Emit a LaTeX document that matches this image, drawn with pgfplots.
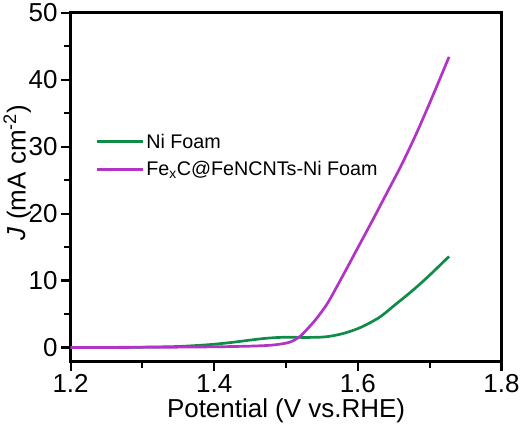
\documentclass[border=0pt]{standalone}
\usepackage{fontspec}
\setmainfont{Liberation Sans}
\usepackage{pgfplots}
\pgfplotsset{compat=1.18}
\definecolor{nigreen}{RGB}{16,140,72}
\definecolor{fepurple}{RGB}{178,52,198}
\begin{document}
\begin{tikzpicture}
\begin{axis}[
  scale only axis, width=415pt, height=336pt,
  xmin=1.2, xmax=1.8, ymin=-2.1, ymax=50,
  xtick={1.2,1.4,1.6,1.8}, ytick={0,10,20,30,40,50},
  minor x tick num=1, minor y tick num=1,
  xtick pos=bottom, ytick pos=left, tick align=outside,
  major tick length=9pt, minor tick length=6pt,
  axis line style={line width=2.6pt}, every tick/.style={line width=2pt, black},
  /pgf/number format/assume math mode=true,
  xticklabel style={/pgf/number format/fixed, /pgf/number format/precision=1, /pgf/number format/fixed zerofill},
  tick label style={font=\fontsize{25}{28}\selectfont},
  label style={font=\fontsize{25}{28}\selectfont},
  xlabel={Potential (V vs.RHE)},
  ylabel={\textit{J} (mA cm\textsuperscript{-2})},
  xlabel style={yshift=1pt},
  ylabel style={yshift=-9pt, xshift=14pt},
  legend style={at={(rel axis cs:0.05,0.665)}, anchor=north west, draw=none, fill=none,
    font=\fontsize{19}{22}\selectfont, row sep=7pt},
  legend cell align=left,
  legend image code/.code={\draw[#1, line width=3pt] (0pt,0pt) -- (44pt,0pt);},
]
\addplot[nigreen, line width=2.6pt, smooth] coordinates {
(1.20,0.00) (1.25,0.01) (1.30,0.05) (1.35,0.15) (1.39,0.40) (1.42,0.70) (1.45,1.10)
(1.47,1.35) (1.49,1.50) (1.51,1.52) (1.53,1.50) (1.556,1.60) (1.58,2.10) (1.604,3.00)
(1.63,4.50) (1.651,6.30) (1.675,8.40) (1.698,10.60) (1.727,13.60)};
\addlegendentry{Ni Foam}
\addplot[fepurple, line width=2.6pt, smooth] coordinates {
(1.20,0.00) (1.25,0.00) (1.30,0.02) (1.35,0.05) (1.40,0.10) (1.45,0.20) (1.48,0.35)
(1.50,0.65) (1.51,1.00) (1.52,1.70) (1.53,2.80) (1.54,4.00) (1.55,5.40) (1.56,7.00)
(1.58,10.90) (1.60,14.90) (1.62,18.90) (1.64,23.00) (1.66,27.10) (1.68,31.60)
(1.70,36.50) (1.727,43.40)};
\addlegendentry{Fe\textsubscript{x}C@FeNCNTs-Ni Foam}
\end{axis}
\end{tikzpicture}
\end{document}
